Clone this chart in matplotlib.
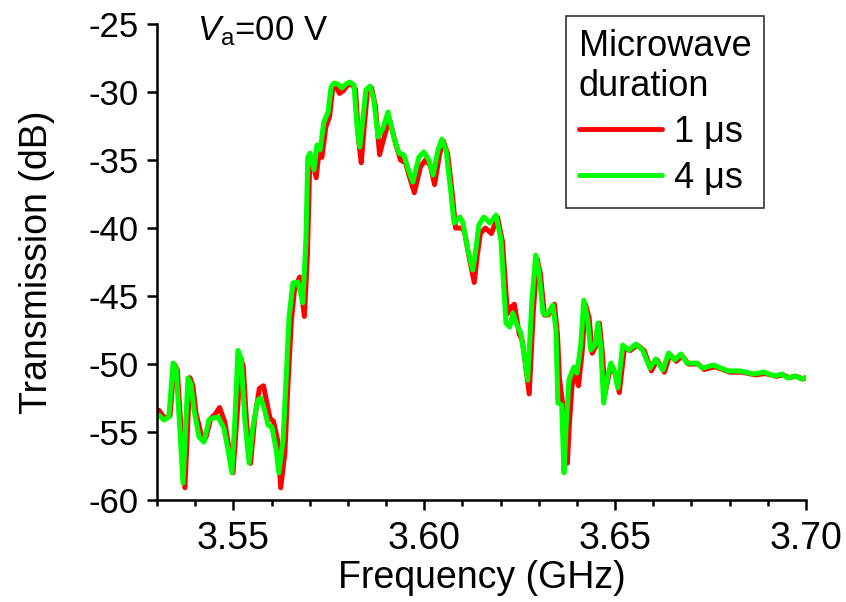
import matplotlib
matplotlib.use("Agg")
import matplotlib.pyplot as plt
from matplotlib.ticker import MultipleLocator

plt.rcParams['font.family'] = ['Liberation Sans', 'DejaVu Sans']
plt.rcParams['axes.unicode_minus'] = False
plt.rcParams['mathtext.fontset'] = 'custom'
plt.rcParams['mathtext.rm'] = 'Liberation Sans'
plt.rcParams['mathtext.it'] = 'Liberation Sans:italic'

# transmission spectra, frequency in GHz, transmission in dB
freq_4us = [3.5305, 3.5318, 3.5331, 3.5342, 3.5350, 3.5360, 3.5368, 3.5381, 3.5389, 3.5397,
            3.5410, 3.5423, 3.5436, 3.5447, 3.5460, 3.5475, 3.5486, 3.5496, 3.5504, 3.5512,
            3.5520, 3.5530, 3.5541, 3.5551, 3.5564, 3.5572, 3.5583, 3.5591, 3.5601, 3.5612,
            3.5619, 3.5630, 3.5638, 3.5646, 3.5656, 3.5669, 3.5682, 3.5690, 3.5695, 3.5701,
            3.5711, 3.5719, 3.5727, 3.5737, 3.5748, 3.5756, 3.5763, 3.5774, 3.5784, 3.5795,
            3.5805, 3.5816, 3.5824, 3.5831, 3.5839, 3.5847, 3.5858, 3.5868, 3.5879, 3.5892,
            3.5905, 3.5920, 3.5934, 3.5947, 3.5957, 3.5970, 3.5986, 3.5999, 3.6012, 3.6023,
            3.6036, 3.6046, 3.6057, 3.6070, 3.6078, 3.6093, 3.6101, 3.6114, 3.6127, 3.6135,
            3.6143, 3.6156, 3.6172, 3.6188, 3.6201, 3.6214, 3.6224, 3.6232, 3.6245, 3.6253,
            3.6261, 3.6271, 3.6282, 3.6292, 3.6300, 3.6311, 3.6321, 3.6337, 3.6345, 3.6350,
            3.6360, 3.6366, 3.6371, 3.6379, 3.6392, 3.6400, 3.6410, 3.6418, 3.6428, 3.6436,
            3.6447, 3.6455, 3.6462, 3.6470, 3.6481, 3.6489, 3.6499, 3.6507, 3.6520, 3.6536,
            3.6554, 3.6572, 3.6591, 3.6606, 3.6625, 3.6640, 3.6656, 3.6672, 3.6688, 3.6714,
            3.6729, 3.6758, 3.6777, 3.6797, 3.6829, 3.6863, 3.6889, 3.6918, 3.6936, 3.6952,
            3.6970, 3.6989, 3.7000]
trans_4us = [-53.75, -54.12, -53.90, -49.93, -50.30, -54.85, -58.75, -51.03, -51.50, -53.40,
             -55.37, -55.74, -54.10, -53.97, -53.90, -54.70, -56.30, -58.00, -54.10, -49.00,
             -49.56, -54.10, -57.28, -54.63, -52.65, -52.50, -53.50, -54.49, -54.63, -56.30,
             -58.00, -55.60, -51.20, -46.50, -44.04, -43.97, -45.50, -40.90, -34.80, -34.49,
             -35.70, -33.90, -34.26, -32.20, -31.47, -29.63, -29.34, -29.41, -29.70, -29.41,
             -29.26, -29.49, -32.57, -34.04, -32.06, -29.85, -29.56, -30.59, -33.30, -32.65,
             -31.47, -33.30, -34.49, -34.63, -35.60, -36.62, -34.78, -34.40, -35.00, -36.10,
             -34.26, -33.46, -34.26, -37.43, -39.63, -39.19, -39.56, -41.60, -43.09, -41.60,
             -39.78, -39.19, -39.63, -39.04, -40.90, -46.99, -47.28, -46.25, -47.28, -47.70,
             -49.19, -51.18, -45.30, -41.99, -43.09, -46.25, -46.40, -45.66, -47.50, -52.87,
             -53.00, -58.00, -54.85, -51.18, -50.22, -50.66, -48.60, -45.30, -46.77, -48.97,
             -48.60, -46.99, -48.60, -52.87, -50.80, -49.93, -50.59, -51.76, -48.60, -48.97,
             -48.53, -48.97, -50.30, -49.63, -50.44, -49.19, -49.70, -49.26, -49.93, -49.93,
             -50.30, -50.07, -50.30, -50.51, -50.51, -50.74, -50.59, -50.88, -50.74, -51.03,
             -50.88, -51.10, -50.96]

freq_1us = [3.5305, 3.5320, 3.5334, 3.5345, 3.5353, 3.5364, 3.5373, 3.5386, 3.5394, 3.5402,
            3.5416, 3.5428, 3.5441, 3.5452, 3.5464, 3.5478, 3.5489, 3.5499, 3.5508, 3.5520,
            3.5526, 3.5535, 3.5545, 3.5556, 3.5568, 3.5579, 3.5589, 3.5596, 3.5605, 3.5616,
            3.5624, 3.5635, 3.5643, 3.5652, 3.5661, 3.5674, 3.5686, 3.5694, 3.5700, 3.5707,
            3.5717, 3.5724, 3.5732, 3.5742, 3.5752, 3.5760, 3.5767, 3.5778, 3.5788, 3.5799,
            3.5809, 3.5820, 3.5828, 3.5835, 3.5843, 3.5851, 3.5862, 3.5872, 3.5883, 3.5896,
            3.5909, 3.5925, 3.5938, 3.5951, 3.5961, 3.5974, 3.5990, 3.6003, 3.6016, 3.6027,
            3.6040, 3.6050, 3.6061, 3.6074, 3.6082, 3.6097, 3.6105, 3.6118, 3.6131, 3.6139,
            3.6147, 3.6160, 3.6176, 3.6192, 3.6205, 3.6218, 3.6228, 3.6236, 3.6249, 3.6257,
            3.6265, 3.6275, 3.6286, 3.6296, 3.6304, 3.6315, 3.6325, 3.6341, 3.6349, 3.6354,
            3.6364, 3.6375, 3.6380, 3.6387, 3.6398, 3.6404, 3.6414, 3.6422, 3.6432, 3.6440,
            3.6451, 3.6459, 3.6466, 3.6474, 3.6485, 3.6493, 3.6503, 3.6511, 3.6524, 3.6540,
            3.6558, 3.6576, 3.6595, 3.6610, 3.6629, 3.6644, 3.6660, 3.6676, 3.6692, 3.6718,
            3.6733, 3.6762, 3.6781, 3.6801, 3.6833, 3.6867, 3.6893, 3.6922, 3.6940, 3.6956,
            3.6974, 3.6993, 3.7000]
trans_1us = [-53.4, -54.0, -53.8, -50.0, -50.4, -55.2, -59.1, -51.0, -51.6, -53.6,
             -55.2, -55.4, -54.0, -53.7, -53.2, -54.3, -56.3, -58.0, -54.5, -49.6,
             -50.2, -54.5, -57.3, -54.0, -51.8, -51.6, -53.0, -54.0, -54.2, -55.6,
             -59.1, -56.5, -51.5, -46.8, -44.3, -43.6, -46.5, -42.0, -35.2, -35.0,
             -36.3, -34.5, -34.8, -32.6, -31.8, -29.8, -29.5, -30.1, -29.9, -29.5,
             -29.4, -29.8, -33.5, -35.2, -32.5, -30.0, -29.7, -31.0, -34.6, -33.2,
             -32.0, -33.8, -35.0, -35.2, -36.2, -37.4, -35.5, -35.0, -35.4, -36.8,
             -34.6, -33.6, -34.5, -37.6, -40.0, -40.0, -40.2, -42.2, -44.0, -42.0,
             -40.4, -40.0, -40.4, -39.2, -41.0, -46.3, -45.8, -45.6, -47.8, -48.3,
             -50.0, -52.2, -46.0, -42.3, -43.3, -46.4, -46.4, -45.6, -47.8, -51.0,
             -53.3, -57.3, -54.5, -51.6, -50.6, -51.6, -49.0, -45.6, -46.6, -49.2,
             -48.6, -47.0, -49.0, -52.1, -50.6, -50.2, -51.0, -52.1, -48.9, -49.0,
             -48.6, -49.0, -50.5, -49.7, -50.6, -49.3, -49.8, -49.4, -50.0, -50.0,
             -50.4, -50.2, -50.4, -50.6, -50.6, -50.8, -50.7, -50.9, -50.8, -51.0,
             -50.9, -51.1, -51.0]

x_ticks = [3.55, 3.60, 3.65, 3.70]
x_tick_labels = ['3.55', '3.60', '3.65', '3.70']

fig = plt.figure(figsize=(8.46, 6.02), dpi=100)
ax = fig.add_axes([0.1856, 0.1694, 0.7671, 0.7906])

ax.plot(freq_1us, trans_1us, color='#ff0000', lw=3.6, label='1 μs',
        solid_joinstyle='round', solid_capstyle='round')
ax.plot(freq_4us, trans_4us, color='#00ff00', lw=3.6, label='4 μs',
        solid_joinstyle='round', solid_capstyle='round')

ax.set_xlim(3.53, 3.70)
ax.set_ylim(-60, -25)
ax.xaxis.set_minor_locator(MultipleLocator(0.01))
ax.yaxis.set_major_locator(MultipleLocator(5))
ax.set_xticks(x_ticks)
ax.set_xticklabels(x_tick_labels)

for side in ['top', 'right']:
    ax.spines[side].set_visible(False)
for side in ['left', 'bottom']:
    ax.spines[side].set_linewidth(1.8)

ax.tick_params(axis='both', which='major', direction='out', length=7, width=1.8)
ax.tick_params(axis='x', which='minor', direction='out', length=4.5, width=1.8)
ax.tick_params(axis='y', which='major', pad=6, labelsize=25)
ax.tick_params(axis='x', which='major', pad=8, labelsize=27)

ax.set_xlabel('Frequency (GHz)', fontsize=27, labelpad=2)
ax.set_ylabel('Transmission (dB)', fontsize=27, labelpad=24)

fig.text(197 / 846, 1 - 40 / 602, r'$V_{\mathrm{a}}$=00 V', fontsize=25,
         ha='left', va='baseline')

leg = ax.legend(title='Microwave\nduration', fontsize=26, title_fontsize=26,
                loc='upper left', bbox_to_anchor=(566 / 846, 1 - 16 / 602),
                bbox_transform=fig.transFigure, frameon=True, fancybox=False,
                handlelength=2.3, handletextpad=0.35, borderpad=0.35,
                labelspacing=0.3, borderaxespad=0)
leg._legend_box.align = 'left'
leg.get_frame().set_edgecolor('black')
leg.get_frame().set_linewidth(1.2)
for line in leg.get_lines():
    line.set_linewidth(3.5)

fig.savefig('out.png', dpi=100)
